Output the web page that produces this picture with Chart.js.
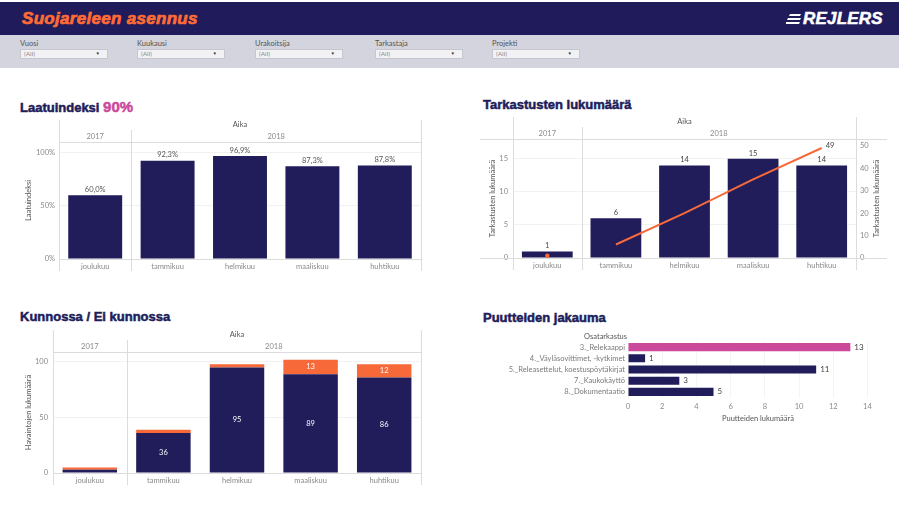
<!DOCTYPE html>
<html>
<head>
<meta charset="utf-8">
<script src="https://cdn.jsdelivr.net/npm/chart.js@4.4.1/dist/chart.umd.min.js"></script>
<style>
  body { margin: 0; width: 899px; height: 506px; background: #fff; position: relative; overflow: hidden; font-family: Lato, sans-serif; }
  #top { position: absolute; left: 0; top: 2px; width: 899px; height: 33px; background: #201c5b; }
  #top h1 { position: absolute; left: 22px; top: 7px; margin: 0; font: italic bold 17px "Liberation Sans", Arial, sans-serif; color: #ff6b35; line-height: 20px; -webkit-text-stroke: 0.7px #ff6b35; letter-spacing: 0.3px; }
  #logo { position: absolute; left: 786px; top: 7px; height: 20px; }
  #logo span { position: absolute; left: 17px; top: 0; font: italic bold 17px "Liberation Sans", Arial, sans-serif; color: #fff; line-height: 20px; letter-spacing: 0.2px; -webkit-text-stroke: 0.5px #fff; }
  #logo svg { position: absolute; left: 0; top: 5px; }
  #filters { position: absolute; left: 0; top: 35px; width: 899px; height: 33px; background: #d4d4de; }
  .flt { position: absolute; top: 4px; font-size: 7.5px; color: #555; line-height: 9px; }
  .box { position: absolute; left: 0; top: 10px; width: 88px; height: 10px; background: #f2f2f5; border: 1px solid #c6c6cf; box-sizing: border-box; font-size: 6.5px; color: #8a8a8a; padding-left: 3px; line-height: 8px; }
  .box:after { content: "\25BC"; position: absolute; right: 7px; top: 0; font-size: 4.5px; color: #333; }
  h2 { position: absolute; margin: 0; font: bold 13px "Liberation Sans", Arial, sans-serif; color: #211c5a; line-height: 15px; white-space: nowrap; -webkit-text-stroke: 0.5px #211c5a; }
  h2 b { color: #cc4a9c; font-size: 15px; -webkit-text-stroke: 0.5px #cc4a9c; }
  canvas { position: absolute; }
</style>
</head>
<body>
<div id="top">
  <h1>Suojareleen asennus</h1>
  <div id="logo">
    <svg width="16" height="11"><path d="M4 0h11l-1 2H3z M2 4h13l-1 2H1z M0 8h14l-1 2H-1z" fill="#fff"/></svg>
    <span>REJLERS</span>
  </div>
</div>
<div id="filters">
  <div class="flt" style="left:20px">Vuosi<div class="box">(All)</div></div>
  <div class="flt" style="left:137px">Kuukausi<div class="box">(All)</div></div>
  <div class="flt" style="left:255px">Urakoitsija<div class="box">(All)</div></div>
  <div class="flt" style="left:375px">Tarkastaja<div class="box">(All)</div></div>
  <div class="flt" style="left:492px">Projekti<div class="box">(All)</div></div>
</div>

<h2 style="left:20px;top:99px">Laatuindeksi <b>90%</b></h2>
<h2 style="left:483px;top:97px">Tarkastusten lukumäärä</h2>
<h2 style="left:20px;top:309px">Kunnossa / Ei kunnossa</h2>
<h2 style="left:483px;top:310px">Puutteiden jakauma</h2>

<canvas id="qualityChart" width="450" height="168" style="left:0;top:112px"></canvas>
<canvas id="inspectChart" width="429" height="170" style="left:470px;top:110px"></canvas>
<canvas id="okChart" width="450" height="165" style="left:0;top:325px"></canvas>
<canvas id="defectChart" width="429" height="100" style="left:470px;top:330px"></canvas>

<script>
const months = ["joulukuu", "tammikuu", "helmikuu", "maaliskuu", "huhtikuu"];
const years = ["2017", "2018", "2018", "2018", "2018"];

const qualityIndex = [60.0, 92.3, 96.9, 87.3, 87.8];

const inspections = [1, 6, 14, 15, 14];
const inspectionsRunning = [1, 6, 20, 35, 49];

const okCounts = [3, 36, 95, 89, 86];
const notOkCounts = [2, 3, 3, 13, 12];

const defectCategories = [
  "3._Relekaappi",
  "4._Väyläsovittimet, -kytkimet",
  "5._Releasettelut, koestuspöytäkirjat",
  "7._Kaukokäyttö",
  "8._Dokumentaatio"
];
const defectCounts = [13, 1, 11, 3, 5];

const NAVY = "#211d5b";
const ORANGE = "#f8693a";
const PINK = "#cc4a9c";
const LINE = "#dcdcdc";

Chart.defaults.font.family = "Lato, sans-serif";
Chart.defaults.font.size = 7.5;
Chart.defaults.color = "#8a8a8a";
Chart.defaults.animation = false;
Chart.defaults.plugins.legend.display = false;
Chart.defaults.plugins.tooltip.enabled = false;

/* ===== Tableau style pane headers (Aika / year) ===== */
const paneHeaders = {
  id: "paneHeaders",
  afterDraw(chart, args, opts) {
    if (!opts.show) return;
    const { ctx, chartArea: a, scales: { x } } = chart;
    const half = (x.getPixelForValue(1) - x.getPixelForValue(0)) / 2;

    // group consecutive months by year
    const groups = [];
    years.forEach((y, i) => {
      const last = groups[groups.length - 1];
      if (last && last.year === y) last.end = i;
      else groups.push({ year: y, start: i, end: i });
    });

    ctx.save();
    ctx.strokeStyle = LINE;
    ctx.lineWidth = 1;
    const vline = (px, y0, y1) => {
      px = Math.round(px) + 0.5;
      ctx.beginPath(); ctx.moveTo(px, y0); ctx.lineTo(px, y1); ctx.stroke();
    };
    const hline = (py, x0, x1) => {
      py = Math.round(py) + 0.5;
      ctx.beginPath(); ctx.moveTo(x0, py); ctx.lineTo(x1, py); ctx.stroke();
    };
    const bottom = a.bottom + 12;
    vline(a.left, a.top - 22, bottom);
    vline(a.right, a.top - 22, bottom);
    groups.slice(1).forEach(g => vline(x.getPixelForValue(g.start) - half, a.top - 12, bottom));
    hline(a.top, opts.hLeft ?? a.left, opts.hRight ?? a.right);
    hline(a.bottom, opts.hLeft ?? a.left, opts.hRight ?? a.right);

    ctx.textAlign = "center";
    ctx.textBaseline = "middle";
    ctx.font = "7.5px Lato";
    ctx.fillStyle = "#555";
    ctx.fillText("Aika", (a.left + a.right) / 2, a.top - 17);
    ctx.fillStyle = "#8a8a8a";
    groups.forEach(g => {
      const l = x.getPixelForValue(g.start) - half;
      const r = x.getPixelForValue(g.end) + half;
      ctx.fillText(g.year, (l + r) / 2, a.top - 5.5);
    });

    if (opts.rightTitle) {
      ctx.save();
      ctx.translate(opts.rightTitleX, (a.top + a.bottom) / 2);
      ctx.rotate(-Math.PI / 2);
      ctx.fillStyle = "#555";
      ctx.fillText(opts.rightTitle, 0, 0);
      ctx.restore();
    }
    ctx.restore();
  }
};

/* ===== value labels on marks ===== */
const valueLabels = {
  id: "valueLabels",
  afterDatasetsDraw(chart) {
    const { ctx } = chart;
    chart.data.datasets.forEach((ds, i) => {
      const lab = ds.valueLabel;
      if (!lab) return;
      const meta = chart.getDatasetMeta(i);
      ctx.save();
      ctx.font = (lab.size || 7.5) + "px Lato";
      ctx.fillStyle = lab.color || "#444";
      meta.data.forEach((el, j) => {
        const v = ds.data[j];
        if (v == null || (lab.show && !lab.show(v, j))) return;
        const text = lab.format ? lab.format(v) : String(v);
        if (lab.pos === "top") {
          ctx.textAlign = "center"; ctx.textBaseline = "bottom";
          ctx.fillText(text, el.x, el.y - 2);
        } else if (lab.pos === "mid") {
          ctx.textAlign = "center"; ctx.textBaseline = "middle";
          ctx.fillText(text, el.x, (el.y + el.base) / 2);
        } else if (lab.pos === "right") {
          ctx.textAlign = "left"; ctx.textBaseline = "middle";
          ctx.fillText(text, el.x + 4, el.y);
        } else if (lab.pos === "point") {
          ctx.textAlign = "left"; ctx.textBaseline = "middle";
          ctx.fillText(text, el.x + 4, el.y - 2);
        }
      });
      ctx.restore();
    });
  }
};

Chart.register(paneHeaders, valueLabels);

const yTitle = (text, pad) => ({ display: true, text, color: "#555", font: { size: 7.5 }, padding: { top: pad } });

/* ===== Laatuindeksi ===== */
new Chart(document.getElementById("qualityChart"), {
  type: "bar",
  data: {
    labels: months,
    datasets: [{
      data: qualityIndex,
      backgroundColor: NAVY,
      barPercentage: 0.745,
      categoryPercentage: 1,
      valueLabel: { pos: "top", color: "#555", format: v => v.toFixed(1).replace(".", ",") + "%" }
    }]
  },
  options: {
    responsive: false,
    layout: { padding: { top: 30, right: 29, left: 0, bottom: 0 } },
    scales: {
      x: {
        grid: { display: false, drawTicks: false },
        border: { display: false },
        ticks: { padding: 3 },
        afterFit(s) { s.height = 21; }
      },
      y: {
        min: 0, max: 110,
        grid: { color: "#f2f2f2", drawTicks: false },
        border: { display: false },
        ticks: { stepSize: 50, includeBounds: false, padding: 4, callback: v => v + "%" },
        title: yTitle("Laatuindeksi", 24.5),
        afterFit(s) { s.width = 59; }
      }
    },
    plugins: { paneHeaders: { show: true } }
  }
});

/* ===== Tarkastusten lukumäärä ===== */
new Chart(document.getElementById("inspectChart"), {
  type: "bar",
  data: {
    labels: months,
    datasets: [
      {
        type: "line",
        data: inspectionsRunning.map((v, i) => years[i] === years[0] ? v : null),
        yAxisID: "y2",
        borderColor: ORANGE,
        backgroundColor: ORANGE,
        pointRadius: 2.2,
        pointBorderWidth: 0,
        order: 0
      },
      {
        type: "line",
        data: inspectionsRunning.map((v, i) => years[i] !== years[0] ? v : null),
        yAxisID: "y2",
        borderColor: ORANGE,
        borderWidth: 2,
        pointRadius: 0,
        tension: 0,
        order: 0,
        valueLabel: { pos: "point", color: "#444", show: (v, j) => j === inspectionsRunning.length - 1 }
      },
      {
        data: inspections,
        backgroundColor: NAVY,
        barPercentage: 0.74,
        categoryPercentage: 1,
        order: 1,
        valueLabel: { pos: "top", color: "#444" }
      }
    ]
  },
  options: {
    responsive: false,
    layout: { padding: { top: 29, right: 0, left: 0, bottom: 0 } },
    scales: {
      x: {
        grid: { display: false, drawTicks: false },
        border: { display: false },
        ticks: { padding: 3 },
        afterFit(s) { s.height = 22; }
      },
      y: {
        min: 0, max: 18,
        grid: { color: "#f2f2f2", drawTicks: false },
        border: { display: false },
        ticks: { stepSize: 5, includeBounds: false, padding: 5 },
        title: yTitle("Tarkastusten lukumäärä", 18.5),
        afterFit(s) { s.width = 43; }
      },
      y2: {
        position: "right",
        min: 0, max: 53,
        grid: { display: false, drawTicks: false },
        border: { display: false },
        ticks: { stepSize: 10, includeBounds: false, padding: 4 },
        afterFit(s) { s.width = 43; }
      }
    },
    plugins: {
      paneHeaders: { show: true, hLeft: 10, hRight: 417, rightTitle: "Tarkastusten lukumäärä", rightTitleX: 407 }
    }
  }
});

/* ===== Kunnossa / Ei kunnossa ===== */
new Chart(document.getElementById("okChart"), {
  type: "bar",
  data: {
    labels: months,
    datasets: [
      {
        data: okCounts,
        backgroundColor: NAVY,
        barPercentage: 0.74,
        categoryPercentage: 1,
        valueLabel: { pos: "mid", color: "#fff", show: v => v >= 10 }
      },
      {
        data: notOkCounts,
        backgroundColor: ORANGE,
        barPercentage: 0.74,
        categoryPercentage: 1,
        valueLabel: { pos: "mid", color: "#fff", show: v => v >= 10 }
      }
    ]
  },
  options: {
    responsive: false,
    layout: { padding: { top: 27, right: 29, left: 0, bottom: 0 } },
    scales: {
      x: {
        stacked: true,
        grid: { display: false, drawTicks: false },
        border: { display: false },
        ticks: { padding: 3 },
        afterFit(s) { s.height = 17; }
      },
      y: {
        stacked: true,
        min: 0, max: 109,
        grid: { color: "#f2f2f2", drawTicks: false },
        border: { display: false },
        ticks: { stepSize: 50, includeBounds: false, padding: 5 },
        title: yTitle("Havaintojen lukumäärä", 24.5),
        afterFit(s) { s.width = 53; }
      }
    },
    plugins: { paneHeaders: { show: true } }
  }
});

/* ===== Puutteiden jakauma ===== */
const osaHeader = {
  id: "osaHeader",
  afterDraw(chart) {
    const { ctx, chartArea: a } = chart;
    ctx.save();
    ctx.font = "7.5px Lato";
    ctx.fillStyle = "#555";
    ctx.textAlign = "right";
    ctx.textBaseline = "middle";
    ctx.fillText("Osatarkastus", a.left - 1, a.top - 4.5);
    ctx.restore();
  }
};

new Chart(document.getElementById("defectChart"), {
  type: "bar",
  data: {
    labels: defectCategories,
    datasets: [{
      data: defectCounts,
      backgroundColor: defectCounts.map((v, i) => i === 0 ? PINK : NAVY),
      barPercentage: 0.72,
      categoryPercentage: 1,
      valueLabel: { pos: "right", color: "#444", size: 8 }
    }]
  },
  options: {
    indexAxis: "y",
    responsive: false,
    layout: { padding: { top: 11.5, right: 11, left: 0, bottom: 0 } },
    scales: {
      x: {
        min: 0, max: 15.2,
        grid: { color: "#f4f4f4", drawTicks: false },
        border: { display: false },
        ticks: { stepSize: 2, includeBounds: false, padding: 5 },
        title: { display: true, text: "Puutteiden lukumäärä", color: "#555", font: { size: 7.5 }, padding: { bottom: 7 } },
        afterFit(s) { s.height = 32.5; }
      },
      y: {
        grid: { display: false, drawTicks: false },
        border: { display: false },
        ticks: { padding: 3, color: "#7a7a7a", autoSkip: false },
        afterFit(s) { s.width = 158; }
      }
    }
  },
  plugins: [osaHeader]
});
</script>
</body>
</html>
